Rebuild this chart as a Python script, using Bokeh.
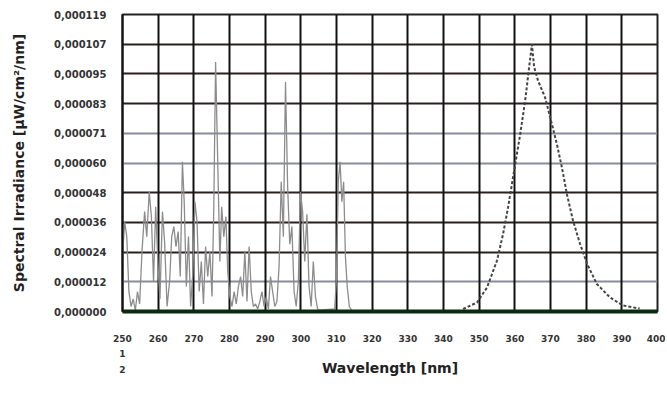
from bokeh.plotting import figure
from bokeh.models import FixedTicker, Range1d, Grid
from bokeh.embed import file_html
from bokeh.resources import INLINE

# --- data -------------------------------------------------------------
# UV-C / UV-B line spectrum
uvc_wavelength = [250.0, 250.6, 251.2, 251.8, 252.4, 253.0, 253.6, 254.2, 254.8, 255.5,
                  256.2, 256.8, 257.5, 258.1, 258.7, 259.3, 259.9, 260.5, 261.2, 261.8,
                  262.5, 263.2, 263.8, 264.4, 265.0, 265.6, 266.2, 266.8, 267.3, 267.9,
                  268.5, 269.1, 269.7, 270.3, 270.9, 271.5, 272.1, 272.7, 273.3, 273.9,
                  274.5, 275.1, 275.6, 276.1, 276.7, 277.3, 277.8, 278.4, 279.0, 279.5,
                  280.1, 280.7, 281.3, 281.9, 282.5, 283.1, 283.7, 284.3, 284.9, 285.5,
                  286.1, 286.7, 287.3, 287.9, 288.5, 289.1, 289.7, 290.3, 290.9, 291.5,
                  292.1, 292.7, 293.3, 293.9, 294.5, 295.1, 295.7, 296.3, 296.9, 297.5,
                  298.1, 298.7, 299.3, 299.9, 300.5, 301.1, 301.7, 302.3, 302.9, 303.5,
                  304.1, 304.7, 305.3, 309.5, 310.0, 310.5, 311.0, 311.5, 312.0, 312.5,
                  313.0, 313.6, 314.2]
uvc_irradiance = [22e-6, 36e-6, 30e-6, 8e-6, 2e-6, 5e-6, 0.5e-6, 8e-6, 3e-6, 25e-6,
                  40e-6, 30e-6, 48e-6, 38e-6, 12e-6, 42e-6, 20e-6, 5e-6, 40e-6, 28e-6,
                  2e-6, 12e-6, 30e-6, 34e-6, 26e-6, 32e-6, 14e-6, 60e-6, 44e-6, 10e-6,
                  30e-6, 2e-6, 15e-6, 44e-6, 36e-6, 8e-6, 20e-6, 3e-6, 26e-6, 14e-6,
                  24e-6, 6e-6, 42e-6, 100e-6, 60e-6, 20e-6, 42e-6, 30e-6, 38e-6, 16e-6,
                  6e-6, 2e-6, 8e-6, 3e-6, 10e-6, 14e-6, 6e-6, 24e-6, 4e-6, 26e-6,
                  8e-6, 2e-6, 3e-6, 1e-6, 4e-6, 8e-6, 2e-6, 6e-6, 1e-6, 14e-6,
                  8e-6, 2e-6, 4e-6, 18e-6, 52e-6, 30e-6, 92e-6, 50e-6, 27e-6, 34e-6,
                  8e-6, 2e-6, 12e-6, 48e-6, 40e-6, 20e-6, 39e-6, 10e-6, 2e-6, 20e-6,
                  6e-6, 1e-6, 0.5e-6, 1e-6, 14e-6, 52e-6, 60e-6, 44e-6, 52e-6, 22e-6,
                  10e-6, 2e-6, 0.5e-6]

# UV-A lamp band
uva_wavelength = [345.5, 349.4, 352.2, 355.0, 356.7, 358.1, 360.1, 361.5, 362.9, 364.0,
                  364.8, 365.4, 366.5, 368.5, 370.4, 371.8, 373.2, 374.6, 376.3, 378.3,
                  380.3, 383.0, 386.7, 390.3, 395.0]
uva_irradiance = [1e-6, 3.6e-6, 9.6e-6, 20.4e-6, 31e-6, 41.7e-6, 59e-6, 71e-6, 84.5e-6, 97.8e-6,
                  107e-6, 98e-6, 92.5e-6, 85.7e-6, 75e-6, 67e-6, 57.7e-6, 47e-6, 36.5e-6, 27e-6,
                  19e-6, 11e-6, 5.6e-6, 2.4e-6, 1.2e-6]

x_ticks = [250, 260, 270, 280, 290, 300, 310, 320, 330, 340, 350, 360, 370, 380, 390, 400]
y_ticks = [0.0, 0.0000119, 0.0000238, 0.0000357, 0.0000476, 0.0000595,
           0.0000714, 0.0000833, 0.0000952, 0.0001071, 0.000119]
y_tick_labels = ["0,000000", "0,000012", "0,000024", "0,000036", "0,000048", "0,000060",
                 "0,000071", "0,000083", "0,000095", "0,000107", "0,000119"]
dark_grid_idx = [2, 3, 4, 7, 8, 9]
light_grid_idx = [1, 5, 6, 10]
footnotes = ["1", "2"]

# --- figure -----------------------------------------------------------
p = figure(width=665, height=396, output_backend="svg", toolbar_location=None,
           x_range=Range1d(250, 400), y_range=Range1d(0, 0.000119),
           min_border_left=122, min_border_right=8, min_border_top=14,
           min_border_bottom=85)
p.background_fill_color = "white"
p.border_fill_color = "white"
p.outline_line_color = "#222222"
p.outline_line_width = 2

p.xgrid.visible = False
p.ygrid.visible = False

vgrid = Grid(dimension=0, ticker=FixedTicker(ticks=x_ticks),
             grid_line_color="#111111", grid_line_width=2)
hgrid_dark = Grid(dimension=1, ticker=FixedTicker(ticks=[y_ticks[i] for i in dark_grid_idx]),
                  grid_line_color="#2a2020", grid_line_width=1.8)
hgrid_light = Grid(dimension=1, ticker=FixedTicker(ticks=[y_ticks[i] for i in light_grid_idx]),
                   grid_line_color="#8a8c9a", grid_line_width=1.8)
p.add_layout(hgrid_light)
p.add_layout(hgrid_dark)
p.add_layout(vgrid)

p.line(uvc_wavelength, uvc_irradiance, line_color="#8c8c8c", line_width=1.3)
p.line(uva_wavelength, uva_irradiance, line_color="#444444", line_width=2, line_dash="3 2")

# x axis (first tick label carries the footnote markers underneath it)
p.xaxis.ticker = FixedTicker(ticks=x_ticks)
p.xaxis.major_label_overrides = {x_ticks[0]: "\n".join([str(x_ticks[0])] + footnotes)}
p.xaxis.major_tick_line_color = None
p.xaxis.minor_tick_line_color = None
p.xaxis.axis_line_color = "#0b2a12"
p.xaxis.axis_line_width = 4
p.xaxis.major_label_text_font = "DejaVu Sans"
p.xaxis.major_label_text_font_style = "bold"
p.xaxis.major_label_text_font_size = "9px"
p.xaxis.major_label_text_line_height = 1.55
p.xaxis.major_label_text_color = "#333333"
p.xaxis.major_label_standoff = 16
p.xaxis.axis_label = "Wavelength [nm]"
p.xaxis.axis_label_text_font = "DejaVu Sans"
p.xaxis.axis_label_text_font_style = "bold"
p.xaxis.axis_label_text_font_size = "14px"
p.xaxis.axis_label_text_color = "#222222"
p.xaxis.axis_label_standoff = -18

# y axis
p.yaxis.ticker = FixedTicker(ticks=y_ticks)
p.yaxis.major_label_overrides = {t: l for t, l in zip(y_ticks, y_tick_labels)}
p.yaxis.major_tick_line_color = None
p.yaxis.minor_tick_line_color = None
p.yaxis.axis_line_color = "#111111"
p.yaxis.axis_line_width = 2
p.yaxis.major_label_text_font = "DejaVu Sans"
p.yaxis.major_label_text_font_style = "bold"
p.yaxis.major_label_text_font_size = "10px"
p.yaxis.major_label_text_color = "#333333"
p.yaxis.major_label_standoff = 10
p.yaxis.axis_label = "Spectral Irradiance [µW/cm²/nm]"
p.yaxis.axis_label_text_font = "DejaVu Sans"
p.yaxis.axis_label_text_font_style = "bold"
p.yaxis.axis_label_text_font_size = "14px"
p.yaxis.axis_label_text_color = "#222222"
p.yaxis.axis_label_standoff = 24

open("out.html", "w").write(file_html(p, INLINE))
